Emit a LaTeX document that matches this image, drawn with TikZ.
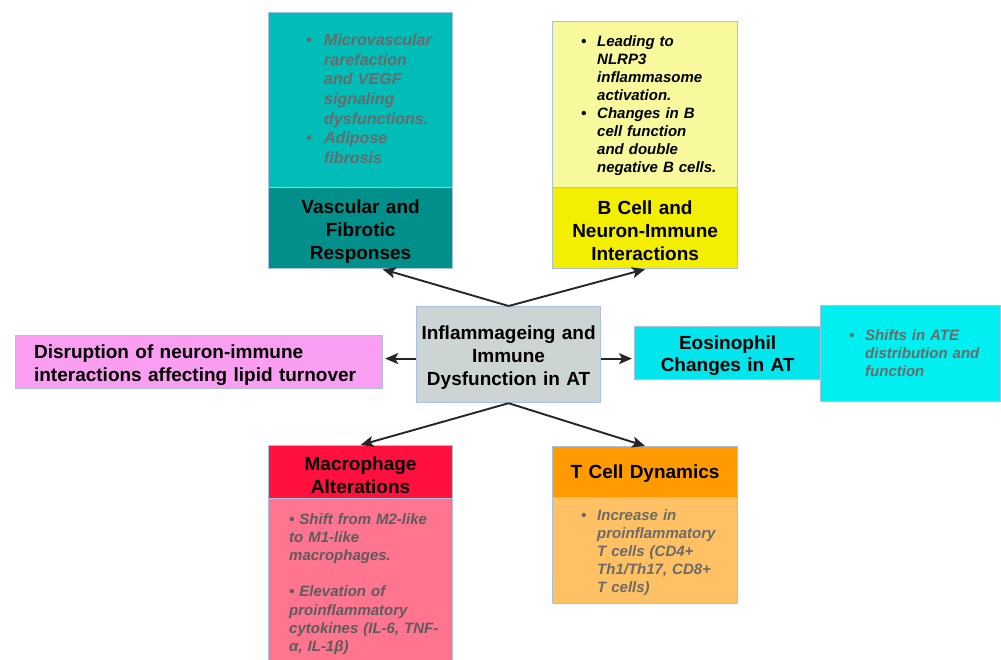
\documentclass[tikz,border=0pt]{standalone}
\usepackage{fontspec}
\setmainfont{Liberation Sans}
\usetikzlibrary{arrows.meta,calc}
\definecolor{bordc}{HTML}{A9C0E0}
\definecolor{arrc}{HTML}{262626}
\definecolor{tealbody}{HTML}{00BDB8}
\definecolor{tealhead}{HTML}{008F8A}
\definecolor{yelbody}{HTML}{F8F89C}
\definecolor{yelhead}{HTML}{F4EE00}
\definecolor{centc}{HTML}{CDD4D4}
\definecolor{pinkc}{HTML}{F99EF0}
\definecolor{eoshead}{HTML}{00E6EC}
\definecolor{eosbody}{HTML}{00F0F2}
\definecolor{machead}{HTML}{FF103F}
\definecolor{macbody}{HTML}{FF7590}
\definecolor{thead}{HTML}{FF9A00}
\definecolor{tbody}{HTML}{FFC163}
\definecolor{graytxt}{HTML}{6A6A6A}
\definecolor{darkgray}{HTML}{5C5C5C}
\newcommand{\bitem}[2]{\noindent\hangindent=#1\hangafter=1\makebox[#1][l]{\textbullet}#2\par}
\tikzset{
  box/.style={draw=bordc, line width=1.2pt, rectangle, inner sep=0pt, anchor=north west},
  head/.style={box, font=\fontsize{19}{23}\selectfont\bfseries, align=center, execute at end node={\par\vspace{-6pt}}},
  bodytxt/.style={anchor=north west, inner sep=0pt, align=left, text width=170pt},
  arr/.style={draw=arrc, line width=1.9pt, -{Stealth[length=13pt,width=11pt,inset=3pt]}},
}
\begin{document}
\begin{tikzpicture}[x=1pt,y=-1pt]
\useasboundingbox (0,0) rectangle (1001,659);

% Vascular
\node[box, fill=tealbody, minimum width=184pt, minimum height=175pt] (vb) at (268,12) {};
\node[head, fill=tealhead, minimum width=184pt, minimum height=81pt, text width=182pt] (vh) at (268,187) {Vascular and\\Fibrotic\\Responses};
\node[bodytxt, text=graytxt, font=\fontsize{16}{19.6}\selectfont\bfseries\itshape] (vt) at (306,34) {%
\bitem{18pt}{Microvascular\newline rarefaction\newline and VEGF\newline signaling\newline dysfunctions.}%
\bitem{18pt}{Adipose\newline fibrosis}};

% B cell
\node[box, fill=yelbody, minimum width=185pt, minimum height=166pt] (bb) at (552,21) {};
\node[head, fill=yelhead, minimum width=185pt, minimum height=81pt, text width=183pt] (bh) at (552,187) {B Cell and\\Neuron-Immune\\Interactions};
\node[bodytxt, text=black, font=\fontsize{15}{18}\selectfont\bfseries\itshape] (bt) at (581,35) {%
\bitem{16pt}{Leading to\newline NLRP3\newline inflammasome\newline activation.}%
\bitem{16pt}{Changes in B\newline cell function\newline and double\newline negative B cells.}};

% Center
\node[head, fill=centc, minimum width=184pt, minimum height=96pt, text width=182pt] (c) at (416,306) {Inflammageing and\\Immune\\Dysfunction in AT};

% Disruption
\node[head, fill=pinkc, minimum width=367pt, minimum height=53pt, align=left, text width=330pt] (dis) at (15,335) {Disruption of neuron-immune\\interactions affecting lipid turnover};

% Eosinophil
\node[head, fill=eoshead, minimum width=186pt, minimum height=53pt, text width=184pt, font=\fontsize{19}{22}\selectfont\bfseries] (eh) at (634,326) {Eosinophil\\Changes in AT};
\node[box, fill=eosbody, minimum width=180pt, minimum height=96pt] (eb) at (820,305) {};
\node[bodytxt, text=graytxt, font=\fontsize{15}{18}\selectfont\bfseries\itshape] (et) at (849,329.5) {%
\bitem{16pt}{Shifts in ATE\newline distribution and\newline function}};

% Macrophage
\node[head, fill=machead, minimum width=184pt, minimum height=53pt, text width=182pt] (mh) at (268,445) {Macrophage\\Alterations};
\node[box, fill=macbody, minimum width=184pt, minimum height=165pt] (mb) at (268,498) {};
\node[bodytxt, text=darkgray, font=\fontsize{15}{18.2}\selectfont\bfseries\itshape] (mt) at (289,513) {%
\textbullet{} Shift from M2-like\newline to M1-like\newline macrophages.\par\vskip18.2pt
\textbullet{} Elevation of\newline proinflammatory\newline cytokines (IL-6, TNF-\newline α, IL-1β)};

% T cell
\node[head, fill=thead, minimum width=185pt, minimum height=51pt, text width=183pt] (th) at (552,446) {T Cell Dynamics};
\node[box, fill=tbody, minimum width=185pt, minimum height=106pt] (tb) at (552,497) {};
\node[bodytxt, text=graytxt, font=\fontsize{15}{18}\selectfont\bfseries\itshape] (tt) at (581,509.5) {%
\bitem{16pt}{Increase in\newline proinflammatory\newline T cells (CD4+\newline Th1/Th17, CD8+\newline T cells)}};

% Arrows
\coordinate (vend) at ($(vh.south)+(22,0)$);
\coordinate (cl) at ($(c.west)+(0,4)$);
\coordinate (cr) at ($(c.east)+(0,4)$);
\draw[arr] (c.north) -- (vend);
\draw[arr] (c.north) -- (bh.south);
\draw[arr] (c.south) -- (mh.north);
\draw[arr] (c.south) -- (th.north);
\draw[arr, shorten >=2pt] (cl) -- (cl -| dis.east);
\draw[arr, shorten >=2pt] (cr) -- (cr -| eh.west);
\end{tikzpicture}
\end{document}
